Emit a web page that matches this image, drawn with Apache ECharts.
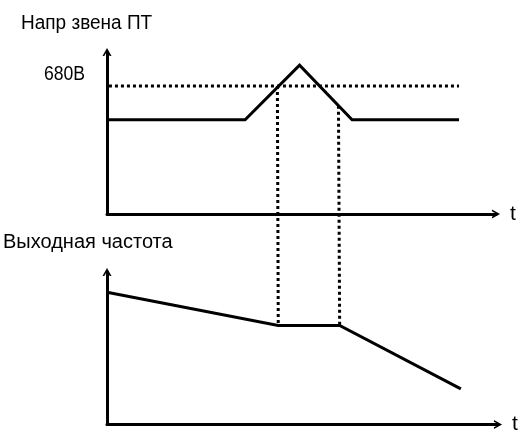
<!DOCTYPE html>
<html>
<head>
<meta charset="utf-8">
<script src="https://cdn.jsdelivr.net/npm/echarts@6/dist/echarts.min.js"></script>
<style>html,body{margin:0;padding:0;background:#fff}#c{width:525px;height:435px}</style>
</head>
<body>
<div id="c"></div>
<script>
// ---- data ----
var topTitle = 'Напр звена ПТ';
var bottomTitle = 'Выходная частота';
var thresholdLabel = '680В';
var axisName = 't';
// DC-link voltage (t, V)
var voltageT = [0, 3.55, 4.95, 6.3, 9.05];
var voltageV = [500, 500, 790, 500, 500];
var thresholdV = 680;
var thresholdT = [0.05, 9.05];
// output frequency (t, Hz)
var freqT = [0, 4.38, 5.95, 9.05];
var freqV = [52, 39, 39, 14];
// moments linking both plots
var linkT = [4.38, 5.95];
var linkTopV = [680, 575];
var linkBottomV = [39, 39];

var tMax = 10, vMax = 860, fMax = 60;

function pairs(xs, ys){ return xs.map(function(x,i){return [x, ys[i]];}); }

var chart = echarts.init(document.getElementById('c'), null, {renderer:'canvas'});
var arrowPath = 'path://M5,0 L10,9 L8,9 L5,3.6 L2,9 L0,9 Z';
var FONT = '"Liberation Sans", Arial, sans-serif';

function xAxisOpt(grid){
  return {type:'value', gridIndex:grid, min:0, max:tMax, name:axisName,
    nameLocation:'end', nameGap:14,
    nameTextStyle:{color:'#000', fontSize:21, fontFamily:FONT, verticalAlign:'middle', padding:[0,0,3,0]},
    axisLine:{show:true, onZero:false, symbol:['none', arrowPath], symbolSize:[9,9], symbolOffset:[0,0],
      lineStyle:{color:'#000', width:3}},
    axisTick:{show:false}, axisLabel:{show:false}, splitLine:{show:false}};
}
function yAxisOpt(grid, max){
  return {type:'value', gridIndex:grid, min:0, max:max,
    axisLine:{show:true, onZero:false, symbol:['none', arrowPath], symbolSize:[9,9],
      lineStyle:{color:'#000', width:3}},
    axisTick:{show:false}, axisLabel:{show:false}, splitLine:{show:false}};
}

var solid = {color:'#000', width:3, cap:'butt', join:'miter'};
var dotted = {color:'#000', width:3, type:[3,3], cap:'butt'};

chart.setOption({
  animation:false,
  backgroundColor:'#fff',
  grid:[
    {left:107, right:29, top:52, height:162},
    {left:107, right:27, top:272, height:158}
  ],
  xAxis:[xAxisOpt(0), xAxisOpt(1)],
  yAxis:[yAxisOpt(0, vMax), yAxisOpt(1, fMax)],
  series:[
    {type:'line', xAxisIndex:0, yAxisIndex:0, data:pairs(voltageT, voltageV), symbol:'none', lineStyle:solid},
    {type:'line', xAxisIndex:0, yAxisIndex:0, data:pairs(thresholdT, [thresholdV, thresholdV]), symbol:'none', lineStyle:dotted},
    {type:'line', xAxisIndex:1, yAxisIndex:1, data:pairs(freqT, freqV), symbol:'none', lineStyle:solid}
  ]
});

// titles, threshold label, and vertical dotted links between plots (positions via the library's scales)
var g = [
  {type:'text', x:21, y:23, scaleX:0.95, originX:0,
    style:{text:topTitle, font:'20px ' + FONT, fill:'#000', verticalAlign:'middle'}},
  {type:'text', x:3, y:242,
    style:{text:bottomTitle, font:'20px ' + FONT, fill:'#000', verticalAlign:'middle'}}
];
var thr = chart.convertToPixel({xAxisIndex:0, yAxisIndex:0}, [0, thresholdV]);
g.push({type:'text', x:thr[0]-22, y:thr[1]-11, scaleX:0.88, originX:0,
  style:{text:thresholdLabel, font:'20px ' + FONT, fill:'#000', align:'right', verticalAlign:'middle'}});
linkT.forEach(function(t, i){
  var a = chart.convertToPixel({xAxisIndex:0, yAxisIndex:0}, [t, linkTopV[i]]);
  var b = chart.convertToPixel({xAxisIndex:1, yAxisIndex:1}, [t, linkBottomV[i]]);
  g.push({type:'line', shape:{x1:a[0], y1:a[1], x2:b[0], y2:b[1]}, z:1,
    style:{stroke:'#000', lineWidth:3, lineDash:[3,3]}});
});
chart.setOption({graphic:g});
</script>
</body>
</html>
